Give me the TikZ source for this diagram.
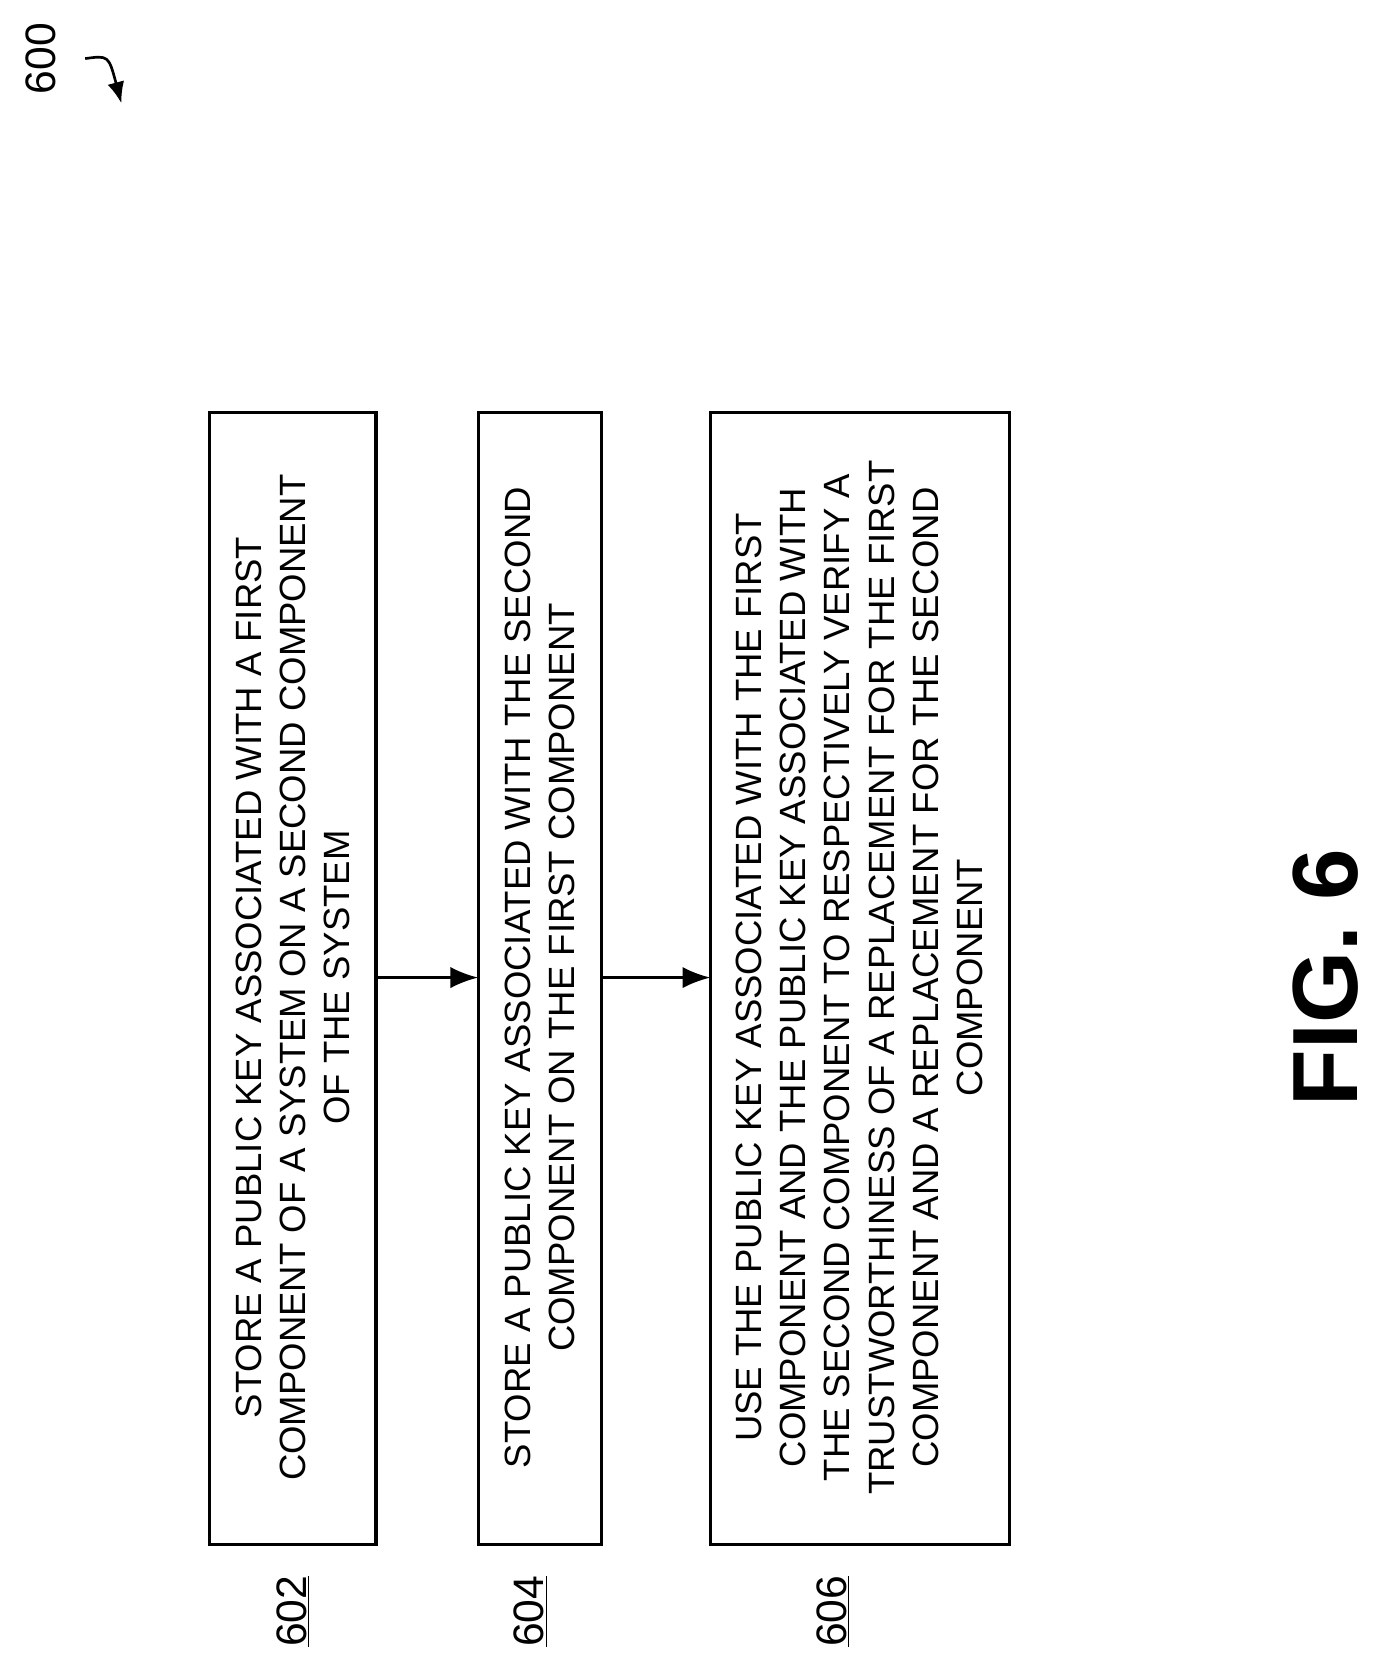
\documentclass[tikz,border=0pt]{standalone}
\usepackage{fontspec}
\setmainfont{Liberation Sans}
\usetikzlibrary{arrows.meta}
\begin{document}
\begin{tikzpicture}[x=1pt,y=-1pt,
  box/.style={draw,line width=3pt},
  txt/.style={rotate=90,align=center,font=\fontsize{34.3}{41.5}\selectfont},
  lab/.style={rotate=90,font=\fontsize{40}{42}\selectfont},
  arr/.style={-{Latex[length=26pt,width=20pt]},line width=2.5pt}]
\useasboundingbox (0,0) rectangle (1300,1572);
\draw[box] (197,387) rectangle (353,1450);
\draw[box] (449,387) rectangle (565,1450);
\draw[box] (667,387) rectangle (948,1450);
\node[txt] (t1) at (275,918) {STORE A PUBLIC KEY ASSOCIATED WITH A FIRST\\COMPONENT OF A SYSTEM ON A SECOND COMPONENT\\OF THE SYSTEM};
\node[txt] (t2) at (507,918) {STORE A PUBLIC KEY ASSOCIATED WITH THE SECOND\\COMPONENT ON THE FIRST COMPONENT};
\node[txt] (t3) at (807,918) {USE THE PUBLIC KEY ASSOCIATED WITH THE FIRST\\COMPONENT AND THE PUBLIC KEY ASSOCIATED WITH\\THE SECOND COMPONENT TO RESPECTIVELY VERIFY A\\TRUSTWORTHINESS OF A REPLACEMENT FOR THE FIRST\\COMPONENT AND A REPLACEMENT FOR THE SECOND\\COMPONENT};
\coordinate (a1) at (353,918); \coordinate (b1) at (449,918);
\coordinate (a2) at (565,918); \coordinate (b2) at (667,918);
\draw[arr] (a1) -- (b1);
\draw[arr] (a2) -- (b2);
\node[lab] (l1) at (275,1513) {\underline{602}};
\node[lab] (l2) at (498,1513) {\underline{604}};
\node[lab] (l3) at (782,1513) {\underline{606}};
\node[lab] (l0) at (38,55) {600};
\coordinate (c0) at (80,55); \coordinate (c1) at (114,97);
\draw[arr,-{Latex[length=20pt,width=16pt]}] (c0) .. controls (102,52) .. (c1);
\node[rotate=90,font=\bfseries\fontsize{87}{90}\selectfont] (fig) at (1245,918) {FIG. 6};
\end{tikzpicture}
\end{document}
